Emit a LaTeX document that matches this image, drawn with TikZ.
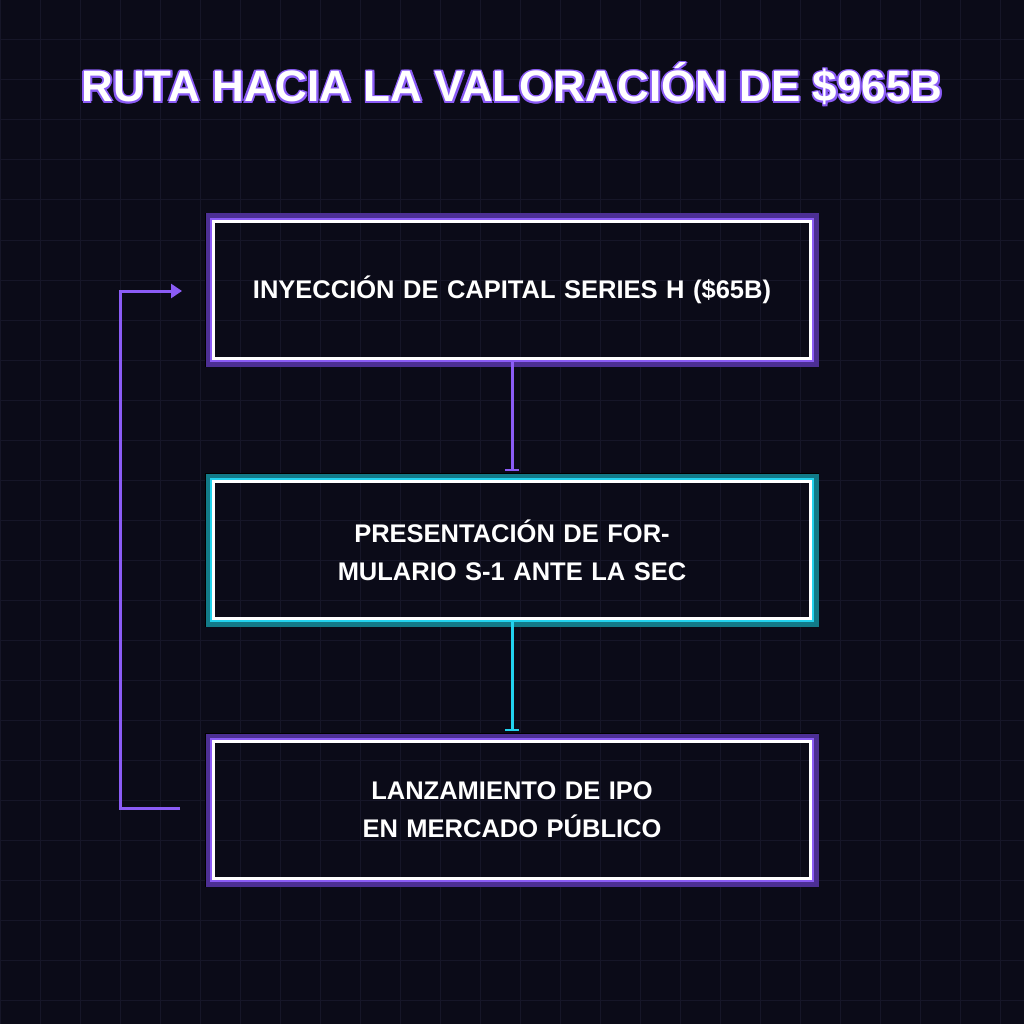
\documentclass[tikz,border=0pt]{standalone}
\usepackage{fontspec}
\setmainfont{Liberation Sans}
\usetikzlibrary{arrows.meta}
\definecolor{bg}{HTML}{0B0B18}
\definecolor{gridc}{HTML}{161628}
\definecolor{purp}{HTML}{8B5CF6}
\definecolor{dpurp}{HTML}{4C2F94}
\definecolor{teal}{HTML}{22D3EE}
\definecolor{dteal}{HTML}{127A88}
\tikzset{
  stepbox/.style={draw=white, line width=3.5pt, minimum width=597pt, minimum height=137pt, text width=565pt, align=center, font=\bfseries\fontsize{25.5}{38}\selectfont, text=white},
  glow/.style={draw=#1, line width=9pt, minimum width=604pt, minimum height=144pt},
  conn/.style={line width=3pt, -{Bar[width=14pt,line width=2pt]}},
  ttl/.style={font=\bfseries\fontsize{44}{44}\selectfont},
}
\begin{document}
\begin{tikzpicture}[x=1pt,y=-1pt]
\fill[bg] (0,0) rectangle (1024,1024);
\useasboundingbox (0,0) rectangle (1024,1024);
\foreach \i in {0,40,...,1000} {
  \draw[gridc, line width=1pt] (\i,0) -- (\i,1024);
  \draw[gridc, line width=1pt] (0,\i) -- (1024,\i);
}
\foreach \dx/\dy in {-1.8/0,1.8/0,0/-1.8,0/1.8,-1.3/-1.3,1.3/1.3,-1.3/1.3,1.3/-1.3} {
  \node[ttl, text=purp] at (512+\dx,84+\dy) {RUTA HACIA LA VALORACIÓN DE \$965B};
}
\node[ttl, text=white] (title) at (512,84) {RUTA HACIA LA VALORACIÓN DE \$965B};
\foreach \n/\y/\c/\d in {a/290/purp/dpurp, b/550/teal/dteal, c/810/purp/dpurp} {
  \node[draw=black, line width=2pt, minimum width=612pt, minimum height=152pt] at (512,\y) {};
  \node[glow=\d] at (512,\y) {};
  \node[draw=\c, line width=3pt, minimum width=601pt, minimum height=141pt] at (512,\y) {};
}
\node[stepbox] (a) at (512,290) {INYECCIÓN DE CAPITAL SERIES H (\$65B)};
\node[stepbox] (b) at (512,550) {PRESENTACIÓN DE FORMULARIO S-1 ANTE LA SEC};
\node[stepbox] (c) at (512,810) {LANZAMIENTO DE IPO EN MERCADO PÚBLICO};
\draw[conn, purp] (a.south) -- ([yshift=9pt]b.north);
\draw[conn, teal] (b.south) -- ([yshift=9pt]c.north);
\coordinate (cl) at (180,808);
\coordinate (al) at (182,291);
\draw[purp, line width=3pt, -{Triangle[length=11pt,width=14pt]}] (cl) -- (120,808) -- (120,291) -- (al);
\end{tikzpicture}
\end{document}
